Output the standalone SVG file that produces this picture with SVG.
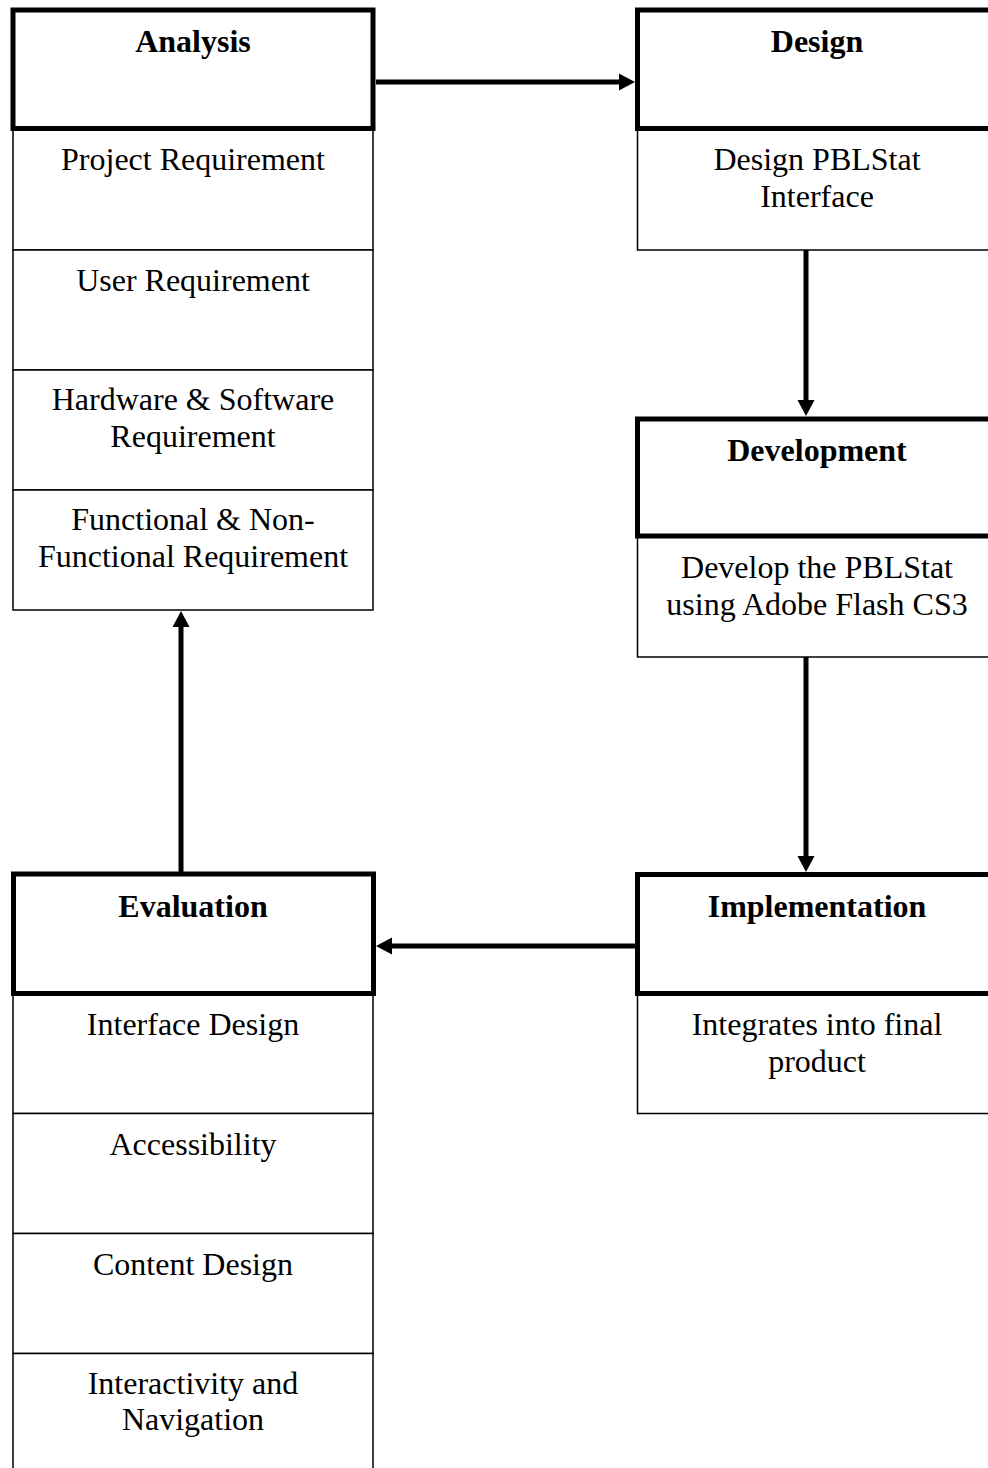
<svg xmlns="http://www.w3.org/2000/svg" width="988" height="1468" viewBox="0 0 988 1468">
<style>
.hdr{fill:#fff;stroke:#000;stroke-width:5}
.sub{fill:#fff;stroke:#000;stroke-width:1.5}
.t{font-family:"Liberation Serif","Times New Roman",serif;font-size:32px;fill:#000;text-anchor:middle}
.b{font-weight:bold}
.c{stroke:#000;stroke-width:5;fill:none;marker-end:url(#ah)}
</style>
<defs>
<marker id="ah" markerUnits="userSpaceOnUse" markerWidth="18" markerHeight="18" refX="2" refY="8.5" orient="auto" overflow="visible">
<path d="M0,0 L16,8.5 L0,17 z" fill="#000"/>
</marker>
</defs>
<rect width="988" height="1468" fill="#fff"/>
<g id="analysis">
<rect class="sub" x="13" y="128" width="360" height="122"/>
<rect class="sub" x="13" y="250" width="360" height="120"/>
<rect class="sub" x="13" y="370" width="360" height="120"/>
<rect class="sub" x="13" y="490" width="360" height="120"/>
<rect class="hdr" x="13" y="10" width="360" height="118.5"/>
<text class="t b" x="193" y="52">Analysis</text>
<text class="t" x="193" y="170">Project Requirement</text>
<text class="t" x="193" y="291">User Requirement</text>
<text class="t" x="193" y="410">Hardware &amp; Software</text>
<text class="t" x="193" y="447">Requirement</text>
<text class="t" x="193" y="530">Functional &amp; Non-</text>
<text class="t" x="193" y="567">Functional Requirement</text>
</g>
<g id="design">
<rect class="sub" x="637.5" y="128" width="360" height="122"/>
<rect class="hdr" x="637.5" y="10" width="360" height="118.5"/>
<text class="t b" x="817" y="52">Design</text>
<text class="t" x="817" y="170">Design PBLStat</text>
<text class="t" x="817" y="207">Interface</text>
</g>
<g id="development">
<rect class="sub" x="637.5" y="536" width="360" height="121"/>
<rect class="hdr" x="637.5" y="419" width="360" height="117"/>
<text class="t b" x="817" y="461">Development</text>
<text class="t" x="817" y="578">Develop the PBLStat</text>
<text class="t" x="817" y="615">using Adobe Flash CS3</text>
</g>
<g id="implementation">
<rect class="sub" x="637.5" y="993.5" width="360" height="120"/>
<rect class="hdr" x="637.5" y="874.5" width="360" height="119"/>
<text class="t b" x="817" y="917">Implementation</text>
<text class="t" x="817" y="1035">Integrates into final</text>
<text class="t" x="817" y="1072">product</text>
</g>
<g id="evaluation">
<rect class="sub" x="13" y="993.5" width="360" height="120"/>
<rect class="sub" x="13" y="1113.5" width="360" height="120"/>
<rect class="sub" x="13" y="1233.5" width="360" height="120"/>
<rect class="sub" x="13" y="1353.5" width="360" height="130"/>
<rect class="hdr" x="13.5" y="874" width="360" height="119.5"/>
<text class="t b" x="193" y="917">Evaluation</text>
<text class="t" x="193" y="1035">Interface Design</text>
<text class="t" x="193" y="1155">Accessibility</text>
<text class="t" x="193" y="1275">Content Design</text>
<text class="t" x="193" y="1394">Interactivity and</text>
<text class="t" x="193" y="1430">Navigation</text>
</g>
<g id="connectors">
<line class="c" x1="376" y1="82" x2="621" y2="82"/>
<line class="c" x1="806" y1="250" x2="806" y2="402"/>
<line class="c" x1="806" y1="657" x2="806" y2="858"/>
<line class="c" x1="635" y1="946" x2="390" y2="946"/>
<line class="c" x1="181" y1="872" x2="181" y2="625"/>
</g>
</svg>
